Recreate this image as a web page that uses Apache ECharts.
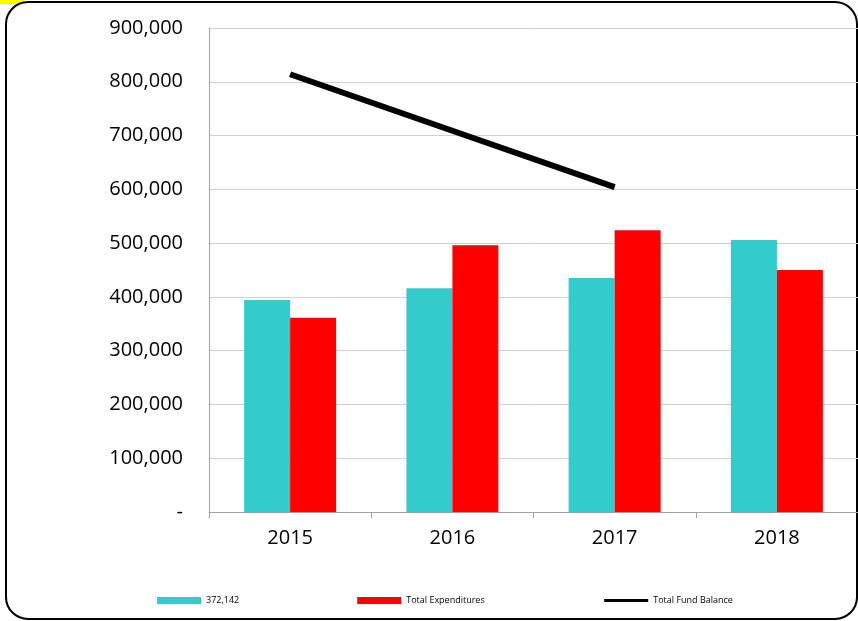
<!DOCTYPE html>
<html>
<head>
<meta charset="utf-8">
<script src="https://cdn.jsdelivr.net/npm/echarts@6/dist/echarts.min.js"></script>
<style>html,body{margin:0;padding:0;background:#fff;}#c{width:858px;height:621px;}</style>
</head>
<body>
<div id="c"></div>
<script>
var categories = ['2015', '2016', '2017', '2018'];
var revenues = [394000, 416000, 435000, 506000];
var expenditures = [361000, 496000, 524000, 450000];
var fundBalance = [814000, 709000, 604000, null];
var seriesNames = ['372,142', 'Total Expenditures', 'Total Fund Balance'];

var chart = echarts.init(document.getElementById('c'));
var font = 'Open Sans';
chart.setOption({
  animation: false,
  backgroundColor: '#ffffff',
  graphic: [
    { type: 'rect', z: -10, shape: { x: 0, y: 0, width: 24, height: 4 }, style: { fill: '#ffff00' } },
    { type: 'rect', z: -9, shape: { x: 6, y: 2, width: 851, height: 617, r: 22 }, style: { fill: '#ffffff', stroke: '#000000', lineWidth: 2 } }
  ],
  grid: { left: 209, right: 0, top: 28, bottom: 109, containLabel: false },
  legend: {
    left: 152, top: 591, itemGap: 118, itemWidth: 44, itemHeight: 7,
    textStyle: { fontFamily: font, fontSize: 9, color: '#000' },
    data: [
      { name: seriesNames[0], icon: 'rect' },
      { name: seriesNames[1], icon: 'rect' },
      { name: seriesNames[2], itemStyle: { opacity: 0 }, lineStyle: { width: 3, color: '#000' } }
    ]
  },
  xAxis: {
    type: 'category', data: categories, boundaryGap: true,
    axisLine: { lineStyle: { color: '#a0a0a0', width: 1 } },
    axisTick: { show: true, length: 6, lineStyle: { color: '#a0a0a0' } },
    axisLabel: { fontFamily: font, fontSize: 20, color: '#000', margin: 16 }
  },
  yAxis: {
    type: 'value', min: 0, max: 900000, interval: 100000,
    axisLine: { show: true, lineStyle: { color: '#a0a0a0', width: 1 } },
    axisTick: { show: false },
    splitLine: { lineStyle: { color: '#d0d0d0', width: 1 } },
    axisLabel: {
      fontFamily: font, fontSize: 20, color: '#000', margin: 26,
      formatter: function (v) { return v === 0 ? '-' : v.toLocaleString('en-US'); }
    }
  },
  series: [
    { name: seriesNames[0], type: 'bar', data: revenues, barWidth: 46, barGap: '0%', itemStyle: { color: '#33cccc' } },
    { name: seriesNames[1], type: 'bar', data: expenditures, barWidth: 46, barGap: '0%', itemStyle: { color: '#ff0000' } },
    { name: seriesNames[2], type: 'line', data: fundBalance, symbol: 'none', lineStyle: { color: '#000', width: 6, cap: 'butt' }, itemStyle: { color: '#000' } }
  ]
});
</script>
</body>
</html>
